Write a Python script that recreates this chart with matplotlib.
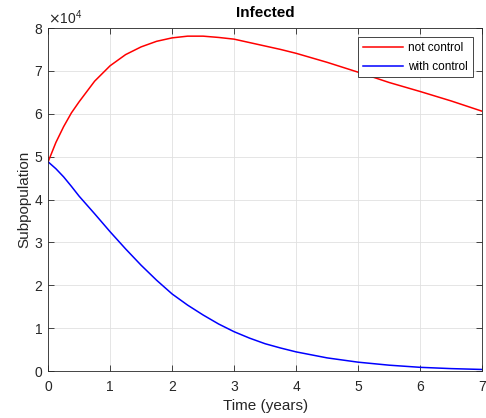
import matplotlib
matplotlib.use('Agg')
import matplotlib.pyplot as plt
from matplotlib.ticker import ScalarFormatter

plt.rcParams['font.family'] = ['Liberation Sans', 'DejaVu Sans']

# time (years) and infected counts
t = [0, 0.125, 0.25, 0.375, 0.5, 0.75, 1, 1.25, 1.5, 1.75, 2, 2.25, 2.5,
     2.75, 3, 3.25, 3.5, 3.75, 4, 4.5, 5, 5.5, 6, 6.5, 7]
no_control = [48800, 53300, 57000, 60200, 62800, 67600, 71200, 73800, 75600,
              76900, 77700, 78100, 78100, 77800, 77400, 76600, 75800, 75000,
              74100, 72000, 69700, 67300, 65200, 63000, 60600]
with_control = [48800, 47200, 45300, 43100, 40800, 36700, 32500, 28500,
                24700, 21200, 18000, 15400, 13100, 11000, 9200, 7700, 6400,
                5400, 4500, 3100, 2100, 1400, 900, 600, 400]

fig = plt.figure(figsize=(4.86, 4.18), dpi=100)
ax = fig.add_axes([0.099, 0.112, 0.893, 0.821])
ax.plot(t, no_control, color='#ff0000', lw=1.1, label='not control')
ax.plot(t, with_control, color='#0000ff', lw=1.1, label='with control')

ax.set_xlim(0, 7)
ax.set_ylim(0, 80000)
ax.set_xticks(range(0, 8))
ax.set_yticks(range(0, 80001, 10000))
fmt = ScalarFormatter(useMathText=True)
fmt.set_powerlimits((0, 0))
ax.yaxis.set_major_formatter(fmt)
ax.yaxis.get_offset_text().set_fontsize(10)
ax.yaxis.get_offset_text().set_color('#262626')

ax.grid(True, color='#e0e0e0', lw=0.6)
ax.tick_params(direction='in', top=True, right=True, labelsize=10,
               colors='#262626', length=4, width=0.6)
ax.tick_params(axis='x', pad=6)
for s in ax.spines.values():
    s.set_color('#262626')
    s.set_linewidth(0.6)

ax.set_title('Infected', fontsize=11, fontweight='bold', pad=8)
ax.set_xlabel('Time (years)', fontsize=11, color='#262626', labelpad=4)
ax.set_ylabel('Subpopulation', fontsize=11, color='#262626', labelpad=2)
leg = ax.legend(loc='upper right', fontsize=8.5, fancybox=False,
                edgecolor='#262626', framealpha=1, handlelength=3.4,
                borderpad=0.4, labelspacing=0.55, handletextpad=0.45,
                borderaxespad=0.8)
leg.get_frame().set_linewidth(0.6)

fig.savefig('out.png', dpi=100)
